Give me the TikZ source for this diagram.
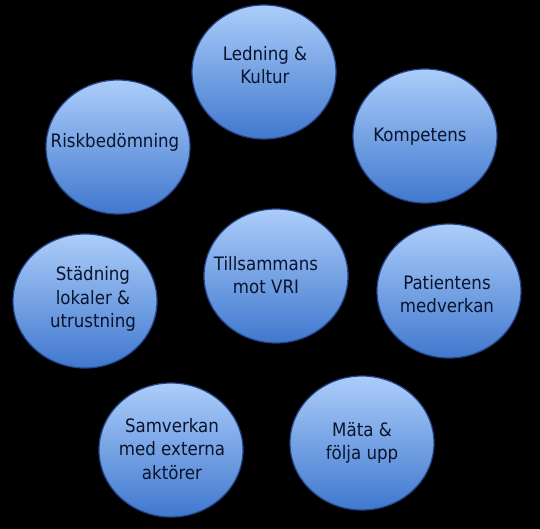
\documentclass[tikz,border=0pt]{standalone}
\usepackage{fontspec}
\setmainfont{DejaVu Sans Condensed}
\usetikzlibrary{shapes.geometric}
\definecolor{bubtop}{RGB}{172,205,250}
\definecolor{bubbot}{RGB}{64,120,206}
\definecolor{bubedge}{RGB}{36,68,135}
\definecolor{txtcol}{RGB}{10,20,45}
\tikzset{
  bubble/.style={ellipse, minimum width=144pt, minimum height=134pt, inner sep=0pt,
    top color=bubtop, bottom color=bubbot, draw=bubedge, line width=1.2pt},
  btext/.style={align=center, text=txtcol, inner sep=0pt,
    font=\fontsize{18.5}{23.5}\selectfont}
}
\begin{document}
\begin{tikzpicture}[x=1pt,y=-1pt]
\fill[black] (0,0) rectangle (540,529);
\useasboundingbox (0,0) rectangle (540,529);
\node[bubble] (led) at (264,72) {};
\node[bubble] (kom) at (425,136) {};
\node[bubble] (risk) at (118,147) {};
\node[bubble] (till) at (276,276) {};
\node[bubble] (pat) at (449,291) {};
\node[bubble] (stad) at (85,301) {};
\node[bubble] (mata) at (362,443) {};
\node[bubble] (sam) at (171,450) {};
\node[btext] (ledt) at (265,65) {Ledning \&\\Kultur};
\node[btext] (komt) at (420,137) {Kompetens};
\node[btext] (riskt) at (115,142) {Riskbedömning};
\node[btext] (tillt) at (266,275) {Tillsammans\\mot VRI};
\node[btext] (patt) at (447,294) {Patientens\\medverkan};
\node[btext] (stadt) at (93,299) {Städning\\lokaler \&\\utrustning};
\node[btext] (matat) at (362,443) {Mäta \&\\följa upp};
\node[btext] (samt) at (172,449) {Samverkan\\med externa\\aktörer};
\end{tikzpicture}
\end{document}
